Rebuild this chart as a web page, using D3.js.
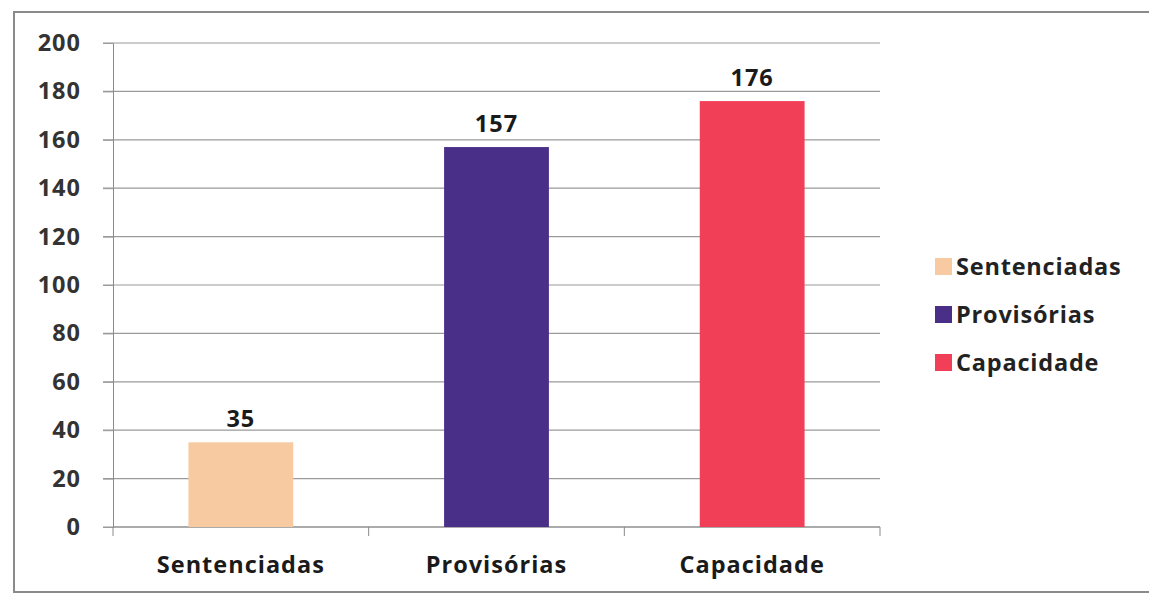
<!DOCTYPE html>
<html><head><meta charset="utf-8">
<script src="https://cdn.jsdelivr.net/npm/d3@7"></script>
<style>body{margin:0;background:#fff;} text{font-family:"Open Sans",Lato,sans-serif;font-weight:bold;}</style>
</head><body><svg id="c" width="1149" height="597"></svg>
<script>
const categories = ["Sentenciadas","Provisórias","Capacidade"];
const values = [35,157,176];
const colors = ["#f8caa2","#4a2f88","#f23f58"];
const yTicks = [0,20,40,60,80,100,120,140,160,180,200];

const svg = d3.select("#c");
svg.append("rect").attr("x",14).attr("y",12).attr("width",1160).attr("height",580)
  .attr("fill","#fff").attr("stroke","#8a8a8a").attr("stroke-width",2);

const L=113,R=880,T=43,B=527;
const FS=23.5;
const x = d3.scaleBand().domain(categories).range([L,R]).paddingInner(0.59).paddingOuter(0.295);
const y = d3.scaleLinear().domain([0,200]).range([B,T]);

// gridlines
svg.append("g").selectAll("line").data(yTicks).join("line")
  .attr("x1",L-10).attr("x2",R).attr("y1",d=>y(d)).attr("y2",d=>y(d))
  .attr("stroke","#9a9a9a").attr("stroke-width",1.2);

// y axis
const ya = svg.append("g").attr("transform",`translate(${L},0)`).call(d3.axisLeft(y).tickValues(yTicks).tickSize(10).tickPadding(22));
ya.select(".domain").attr("stroke","#8a8a8a");
ya.selectAll(".tick line").attr("stroke","#9a9a9a");
ya.selectAll("text").attr("font-size",FS).attr("fill","#333").attr("letter-spacing",1)
  .attr("font-family","Open Sans").attr("font-weight","bold");

// x axis with boundary ticks
const xa = svg.append("g").attr("transform",`translate(0,${B})`);
xa.append("line").attr("x1",L).attr("x2",R).attr("stroke","#8a8a8a");
const bounds = [L].concat(categories.map(c=>x(c)+x.bandwidth()/2 + x.step()/2));
xa.selectAll(".bt").data(bounds).join("line").attr("class","bt")
  .attr("x1",d=>d).attr("x2",d=>d).attr("y1",0).attr("y2",9).attr("stroke","#8a8a8a");
xa.selectAll(".lbl").data(categories).join("text").attr("class","lbl")
  .attr("x",d=>x(d)+x.bandwidth()/2).attr("y",46).attr("text-anchor","middle")
  .attr("font-size",FS).attr("letter-spacing",1).attr("fill","#1a1a1a").text(d=>d);

// bars
svg.append("g").selectAll("rect").data(categories).join("rect")
  .attr("x",d=>x(d)).attr("width",x.bandwidth())
  .attr("y",(d,i)=>y(values[i])).attr("height",(d,i)=>B-y(values[i]))
  .attr("fill",(d,i)=>colors[i]);

// value labels
svg.append("g").selectAll("text").data(categories).join("text")
  .attr("x",d=>x(d)+x.bandwidth()/2).attr("y",(d,i)=>y(values[i])-15)
  .attr("text-anchor","middle").attr("font-size",FS).attr("letter-spacing",1).attr("fill","#1a1a1a")
  .text((d,i)=>values[i]);

// legend
const lg = svg.append("g").attr("transform","translate(935,258)");
categories.forEach((c,i)=>{
  const g = lg.append("g").attr("transform",`translate(0,${i*48})`);
  g.append("rect").attr("width",17).attr("height",17).attr("fill",colors[i]);
  g.append("text").attr("x",21).attr("y",17).attr("font-size",FS).attr("letter-spacing",0.8).attr("fill","#222").text(c);
});
</script></body></html>
